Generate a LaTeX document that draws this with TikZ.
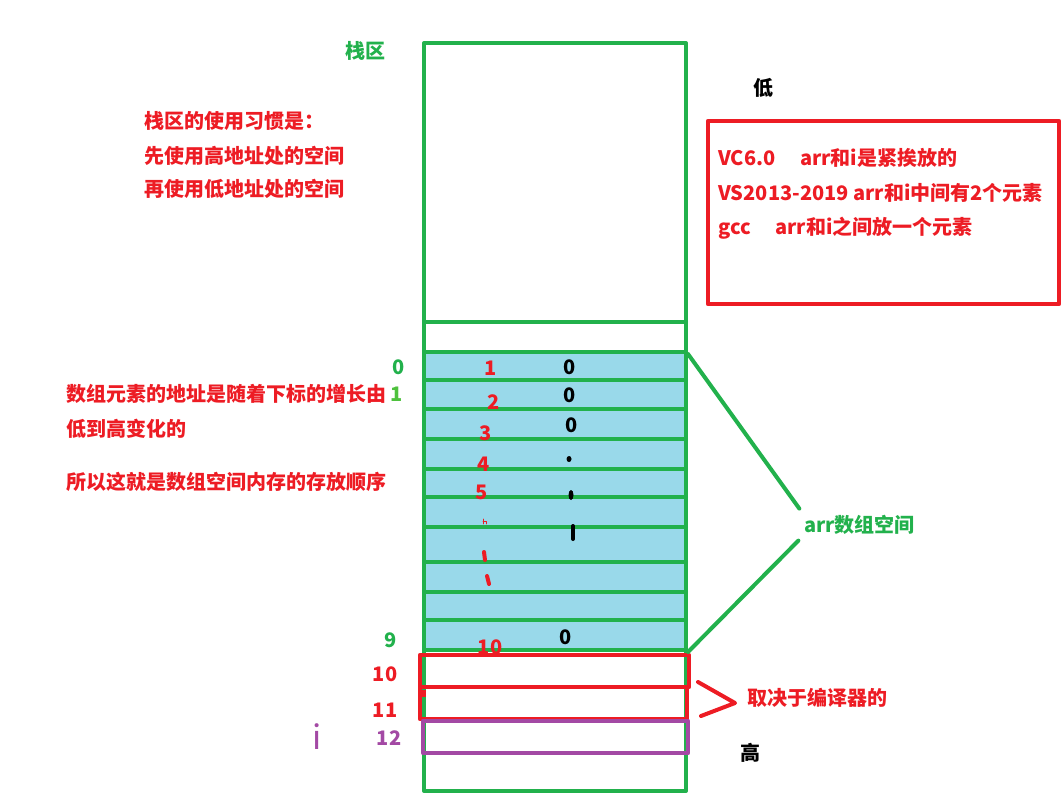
\documentclass[tikz,border=0pt]{standalone}
\usepackage{fontspec}
\setmainfont{Noto Sans CJK SC}
\usetikzlibrary{positioning}
\definecolor{pgreen}{HTML}{22B14C}
\definecolor{pred}{HTML}{ED1C24}
\definecolor{ppurple}{HTML}{A349A4}
\definecolor{pblue}{HTML}{99D9EA}

\begin{document}
\begin{tikzpicture}[x=0.75pt,y=-0.75pt,line cap=round,line join=round,
  cell/.style={draw=pgreen,line width=3pt},
  box/.style={line width=3.4pt},
  txt/.style={font=\fontsize{15}{17}\selectfont\bfseries,inner sep=0pt},
  redtxt/.style={txt,text=pred},
  num/.style={font=\fontsize{15}{17}\selectfont\bfseries,inner sep=0pt},
  blob/.style={line width=3pt}]
\useasboundingbox (0,0) rectangle (1062,809);

% Stack column and its cells.
\fill[pblue] (424,352) rectangle (686,650);
\draw[cell] (424,43) rectangle (686,791);
\foreach \yy in {322,352,380,409,439,469,497,527,562,592,620,650}
  \draw[cell] (424,\yy) -- (686,\yy);
\coordinate (arrtop) at (688,354);
\coordinate (arrbot) at (688,652);

% Slots that depend on the compiler, and i.
\draw[box,draw=pred] (420,655) rectangle (689,687);
\draw[box,draw=pred] (420,687) rectangle (687,719);
\fill[pred] (420,690) rectangle (426,697);
\draw[box,draw=ppurple] (423,721) rectangle (688,753);

% Titles and notes.
\node[txt,text=pgreen] (stack) at (365,51) {栈区};
\node[txt] (low) at (763,88) {低};
\node[txt] (high) at (750,753) {高};
\draw[box,draw=pred] (708,121) rectangle (1059,304);
\node[redtxt,anchor=west] (vc) at (718,158) {VC6.0\quad\ arr和i是紧挨放的};
\node[redtxt,anchor=west] (vs) at (718,193) {VS2013-2019 arr和i中间有2个元素};
\node[redtxt,anchor=west] (gcc) at (718,228) {gcc\quad\ arr和i之间放一个元素};
\node[redtxt,anchor=west] (habit) at (144,121) {栈区的使用习惯是：};
\node[redtxt,anchor=west] (habit2) at (144,156) {先使用高地址处的空间};
\node[redtxt,anchor=west] (habit3) at (144,189) {再使用低地址处的空间};
\node[redtxt,anchor=west] (order) at (66,394) {数组元素的地址是随着下标的增长由};
\node[redtxt,anchor=west] (order2) at (66,429) {低到高变化的};
\node[redtxt,anchor=west] (order3) at (66,482) {所以这就是数组空间内存的存放顺序};

% Index labels left of the column.
\node[num,text=pgreen] (i0) at (399,367) {0};
\node[num,text=pgreen!80!yellow] (i1) at (397,394) {1};
\node[num,text=pgreen] (i9) at (391,640) {9};
\node[num,text=pred] (i10) at (385,674) {10};
\node[num,text=pred] (i11) at (385,710) {11};
\node[num,text=ppurple] (i12) at (389,738) {12};
\node[text=ppurple,inner sep=0pt,font=\fontsize{25}{25}\selectfont] (ivar) at (317,737) {i};

% Counts and values inside the cells.
\foreach \n/\x/\y in {1/491/368,2/494/402,3/486/433,4/484/464,5/482/492,10/490/647}
  \node[num,text=pred] (c\n) at (\x,\y) {\n};
\foreach \k/\x/\y in {a/570/367,b/570/395,c/572/425,d/566/637}
  \node[num] (v\k) at (\x,\y) {0};
\fill (569,459) ellipse (2.5 and 3);
\fill (571,495) ellipse (2.5 and 5);
\draw[blob] (573,526) -- (573,539);
\draw[pred,line width=.5pt] (483,519) -- (483,524) (483,521) -- (486,521) -- (486,524);
\draw[blob,pred] (484,552) -- (485,560);
\draw[blob,pred] (487,576) -- (489,584);

% arr bracket.
\node[txt,text=pgreen,anchor=west] (arr) at (804,525) {arr数组空间};
\draw[pgreen,line width=3pt,shorten >=6pt] (arrtop) -- (arr.north west);
\draw[pgreen,line width=3pt,shorten <=6pt] (arr.south west) -- (arrbot);

% Compiler bracket.
\node[redtxt,anchor=west] (comp) at (747,698) {取决于编译器的};
\coordinate (tip) at (735,703);
\draw[pred,line width=3pt] (698,682) -- (tip) -- (701,716);
\end{tikzpicture}
\end{document}
